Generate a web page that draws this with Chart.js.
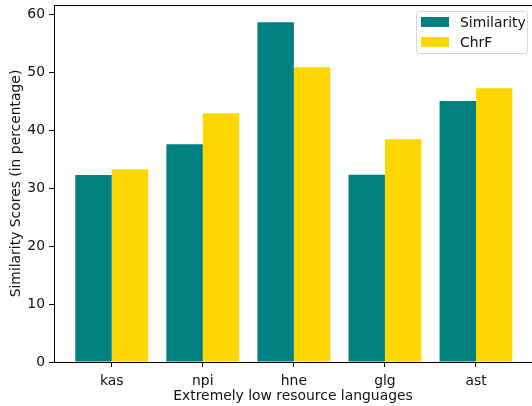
<!DOCTYPE html>
<html>
<head>
<meta charset="utf-8">
<script src="https://cdn.jsdelivr.net/npm/chart.js@4.4.1/dist/chart.umd.min.js"></script>
<style>
  html, body { margin: 0; padding: 0; background: #fff; }
  #wrap { width: 532px; height: 406px; }
</style>
</head>
<body>
<div id="wrap"><canvas id="chart" width="532" height="406"></canvas></div>
<script>
const languages = ["kas", "npi", "hne", "glg", "ast"];
const similarity = [32.3, 37.65, 58.7, 32.35, 45.1];
const chrf = [33.3, 43.0, 50.95, 38.5, 47.3];
const yTicks = [0, 10, 20, 30, 40, 50, 60];

const FONT = "'DejaVu Sans', sans-serif";
const TEXT = "#111";

const frame = {
  id: "frame",
  afterDraw(chart) {
    const ctx = chart.ctx;
    const a = chart.chartArea;
    ctx.save();
    ctx.strokeStyle = "#000";
    ctx.lineWidth = 1;
    ctx.beginPath();
    ctx.moveTo(a.left, a.top + 0.5);
    ctx.lineTo(a.right, a.top + 0.5);
    ctx.stroke();

    // legend box
    const x = 416.5, y = 11.5, w = 111, h = 42;
    ctx.fillStyle = "rgba(255,255,255,0.8)";
    ctx.strokeStyle = "#d9d9d9";
    ctx.beginPath();
    ctx.roundRect(x, y, w, h, 2.5);
    ctx.fill();
    ctx.stroke();
    ctx.font = "13.9px " + FONT;
    ctx.textBaseline = "middle";
    chart.data.datasets.forEach((ds, i) => {
      const cy = 22 + i * 20;
      ctx.fillStyle = ds.backgroundColor;
      ctx.fillRect(421, cy - 5, 28, 10);
      ctx.fillStyle = TEXT;
      ctx.fillText(ds.label, 460, cy + 1);
    });
    ctx.restore();
  }
};

function noPad(scale) {
  scale.paddingTop = 0;
  scale.paddingBottom = 0;
  scale.paddingLeft = 0;
  scale.paddingRight = 0;
}

new Chart(document.getElementById("chart"), {
  type: "bar",
  data: {
    datasets: [
      {
        label: "Similarity",
        data: similarity.map((v, i) => ({ x: i, y: v })),
        backgroundColor: "#008080",
        borderWidth: 0
      },
      {
        label: "ChrF",
        data: chrf.map((v, i) => ({ x: i, y: v })),
        backgroundColor: "#FFD700",
        borderWidth: 0
      }
    ]
  },
  options: {
    responsive: false,
    animation: false,
    events: [],
    layout: { autoPadding: false, padding: { top: 5, right: 0, left: 0, bottom: 0 } },
    datasets: { bar: { categoryPercentage: 0.8, barPercentage: 1.0 } },
    plugins: {
      legend: { display: false },
      tooltip: { enabled: false }
    },
    scales: {
      x: {
        type: "linear",
        offset: false,
        min: -0.634,
        max: 4.615,
        afterFit(scale) { scale.height = 44; noPad(scale); },
        afterBuildTicks(scale) {
          scale.ticks = languages.map((_, i) => ({ value: i }));
        },
        ticks: {
          autoSkip: false,
          maxRotation: 0,
          padding: 6,
          color: TEXT,
          font: { family: FONT, size: 13.9 },
          callback: (v) => languages[v]
        },
        grid: { offset: false, drawOnChartArea: false, drawTicks: true, tickLength: 5, color: "#000" },
        border: { display: true, color: "#000", width: 1 },
        title: {
          display: true,
          text: "Extremely low resource languages",
          color: TEXT,
          font: { family: FONT, size: 13.9 },
          padding: { top: 0, bottom: 1 }
        }
      },
      y: {
        min: 0,
        max: 61.7,
        afterFit(scale) { scale.width = 54; noPad(scale); },
        afterBuildTicks(scale) {
          scale.ticks = yTicks.map((v) => ({ value: v }));
        },
        ticks: {
          padding: 4,
          color: TEXT,
          font: { family: FONT, size: 13.9 }
        },
        grid: { drawOnChartArea: false, drawTicks: true, tickLength: 5, color: "#000" },
        border: { display: true, color: "#000", width: 1 },
        title: {
          display: true,
          text: "Similarity Scores (in percentage)",
          color: TEXT,
          font: { family: FONT, size: 13.9 },
          padding: { top: 8, bottom: 0 }
        }
      }
    }
  },
  plugins: [frame]
});
</script>
</body>
</html>
